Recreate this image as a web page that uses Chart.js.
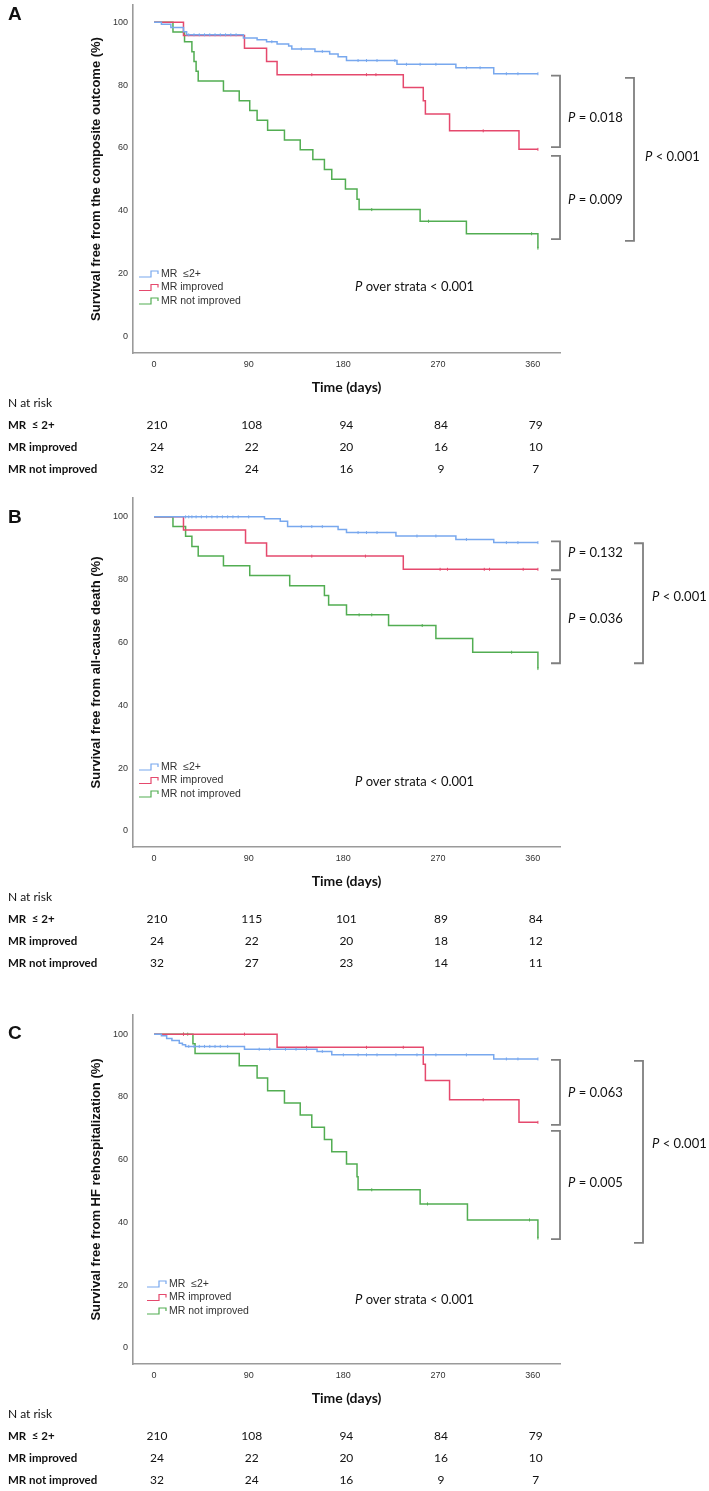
<!DOCTYPE html>
<html><head><meta charset="utf-8">
<script src="https://cdn.jsdelivr.net/npm/chart.js@4.4.0/dist/chart.umd.min.js"></script>
<style>
html,body{margin:0;padding:0;background:#fff;}
body{width:709px;height:1491px;position:relative;overflow:hidden;}
.panel{position:absolute;left:0;width:709px;}
canvas{display:block;}
</style></head><body>
<div class="panel" style="top:0px;height:490px"><canvas id="cA" width="709" height="490"></canvas></div>
<div class="panel" style="top:490px;height:500px"><canvas id="cB" width="709" height="500"></canvas></div>
<div class="panel" style="top:990px;height:501px"><canvas id="cC" width="709" height="501"></canvas></div>
<script>
// ---------- DATA ----------
const groupNames = ['MR  \u22642+', 'MR improved', 'MR not improved'];
const tableNames = ['MR  \u2264 2+', 'MR improved', 'MR not improved'];
const xTickValues = [0, 90, 180, 270, 360];
const yTickValues = [0, 20, 40, 60, 80, 100];
const riskTimes = [0, 90, 180, 270, 360];

// Panel A: composite outcome
const A_le2_t = [0, 7, 16, 28, 31, 85, 98, 107, 117, 128, 131, 153, 167, 175, 183, 231, 287, 323, 365];
const A_le2_s = [100, 99.4, 98.3, 97.0, 96.0, 95.0, 94.4, 93.8, 93.1, 92.4, 91.5, 90.7, 89.9, 89.0, 87.8, 86.6, 85.5, 83.6, 83.6];
const A_imp_t = [0, 28, 86, 107, 117, 237, 256, 258, 281, 347, 365];
const A_imp_s = [100, 95.8, 91.7, 87.5, 83.3, 79.2, 75.0, 70.8, 65.4, 59.5, 59.5];
const A_not_t = [0, 18, 29, 36, 38, 40, 42, 66, 81, 91, 98, 108, 124, 139, 151, 162, 169, 182, 193, 195, 253, 297, 365];
const A_not_s = [100, 96.9, 93.8, 90.6, 87.5, 84.4, 81.3, 78.1, 75.0, 71.9, 68.8, 65.6, 62.5, 59.4, 56.3, 53.1, 50.0, 46.9, 43.6, 40.3, 36.6, 32.6, 28.0];
const A_le2_c = [33, 38, 43, 48, 53, 58, 63, 68, 73, 78, 112, 140, 160, 194, 202, 212, 229, 240, 253, 268, 297, 310, 335, 346, 365];
const A_imp_c = [150, 202, 211, 313, 365];
const A_not_c = [207, 261, 359, 365];
const A_risk_le2 = [210, 108, 94, 84, 79];
const A_risk_imp = [24, 22, 20, 16, 10];
const A_risk_not = [32, 24, 16, 9, 7];

// Panel B: all-cause death
const B_le2_t = [0, 105, 120, 127, 175, 183, 230, 287, 323, 365];
const B_le2_s = [100, 99.4, 98.6, 96.9, 96.0, 95.0, 93.9, 92.8, 91.8, 91.8];
const B_imp_t = [0, 28, 87, 107, 237, 365];
const B_imp_s = [100, 95.8, 91.7, 87.5, 83.3, 83.3];
const B_not_t = [0, 18, 30, 36, 42, 66, 91, 129, 162, 166, 183, 223, 268, 303, 365];
const B_not_s = [100, 96.9, 93.8, 90.6, 87.5, 84.4, 81.3, 78.1, 75.0, 71.9, 68.8, 65.4, 61.3, 56.9, 51.7];
const B_le2_c = [30, 33, 36, 40, 45, 50, 55, 60, 65, 70, 75, 80, 90, 140, 150, 160, 194, 202, 212, 250, 268, 297, 335, 346, 365];
const B_imp_c = [150, 201, 272, 279, 314, 319, 351, 365];
const B_not_c = [195, 207, 255, 340, 365];
const B_risk_le2 = [210, 115, 101, 89, 84];
const B_risk_imp = [24, 22, 20, 18, 12];
const B_risk_not = [32, 27, 23, 14, 11];

// Panel C: HF rehospitalization
const C_le2_t = [0, 7, 12, 17, 24, 27, 30, 86, 155, 169, 323, 365];
const C_le2_s = [100, 99.5, 98.6, 98.0, 97.1, 96.6, 96.1, 95.2, 94.5, 93.4, 92.1, 92.1];
const C_imp_t = [0, 117, 256, 258, 281, 347, 365];
const C_imp_s = [100, 95.8, 90.4, 85.2, 79.1, 71.9, 71.9];
const C_not_t = [0, 37, 39, 81, 98, 108, 124, 139, 150, 162, 169, 183, 193, 194, 253, 298, 365];
const C_not_s = [100, 96.9, 93.8, 89.9, 86.0, 82.0, 78.1, 74.2, 70.3, 66.4, 62.5, 58.6, 54.6, 50.4, 45.9, 40.8, 35.0];
const C_le2_c = [33, 38, 43, 48, 53, 58, 63, 70, 100, 110, 125, 135, 145, 160, 180, 194, 202, 212, 230, 250, 268, 297, 335, 346, 365];
const C_imp_c = [28, 86, 145, 202, 237, 313, 365];
const C_not_c = [28, 32, 207, 260, 357, 365];
const C_risk_le2 = [210, 108, 94, 84, 79];
const C_risk_imp = [24, 22, 20, 16, 10];
const C_risk_not = [32, 24, 16, 9, 7];

// ---------- STYLE ----------
const COLORS = ['#78a8ee', '#e5496d', '#52ad52'];
const ARIAL = '"Liberation Sans", Arial, sans-serif';
const CAL = 'Lato, "Open Sans", sans-serif';

function km(t, s) { return t.map((x, i) => ({ x: x, y: s[i] })); }
function censor(t, s, c) {
  return c.map(ct => { let v = s[0]; for (let i = 0; i < t.length; i++) if (t[i] <= ct) v = s[i]; return { x: ct, y: v }; });
}

function drawP(ctx, x, y, rest, size) {
  ctx.font = 'italic ' + size + 'px ' + CAL;
  ctx.fillText('P', x, y);
  const w = ctx.measureText('P').width;
  ctx.font = size + 'px ' + CAL;
  ctx.fillText(rest, x + w, y);
}

const overlay = {
  id: 'kmOverlay',
  afterDraw(chart, args, o) {
    const ctx = chart.ctx;
    const ca = chart.chartArea;
    const xs = chart.scales.x, ys = chart.scales.y;
    ctx.save();
    ctx.textBaseline = 'middle';
    ctx.fillStyle = '#111';
    // panel letter
    ctx.font = 'bold 19px ' + ARIAL;
    ctx.textAlign = 'left';
    ctx.fillText(o.letter, 8, o.letterY);
    // legend
    ctx.font = '10.5px ' + ARIAL;
    for (let i = 0; i < 3; i++) {
      const ly = ca.top + o.legendDY[i];
      const lx = o.legendX;
      ctx.strokeStyle = COLORS[i];
      ctx.lineWidth = 1.2;
      ctx.beginPath();
      ctx.moveTo(lx, ly + 3); ctx.lineTo(lx + 12, ly + 3); ctx.lineTo(lx + 12, ly - 3);
      ctx.lineTo(lx + 19, ly - 3); ctx.lineTo(lx + 19, ly);
      ctx.stroke();
      ctx.fillStyle = '#333';
      ctx.fillText(groupNames[i], lx + 22, ly);
    }
    // P over strata
    ctx.fillStyle = '#111';
    drawP(ctx, 355, ca.top + o.strataDY, ' over strata < 0.001', 13);
    // brackets
    ctx.strokeStyle = '#7f7f7f';
    ctx.lineWidth = 1.8;
    o.brackets.forEach(b => {
      const y1 = ys.getPixelForValue(b.from), y2 = ys.getPixelForValue(b.to);
      const xv = ca.right + b.dx, xt = xv - 9;
      ctx.beginPath();
      ctx.moveTo(xt, y1); ctx.lineTo(xv, y1); ctx.lineTo(xv, y2); ctx.lineTo(xt, y2);
      ctx.stroke();
      drawP(ctx, ca.right + b.tx, ys.getPixelForValue(b.textAt), b.text, 13);
    });
    // risk table
    const tb = ca.bottom;
    ctx.fillStyle = '#111';
    ctx.textAlign = 'left';
    ctx.font = '12px ' + CAL;
    ctx.fillText('N at risk', 8, tb + 50);
    const rowsDY = [72, 94.5, 116.5];
    o.risk.forEach((row, r) => {
      ctx.textAlign = 'left';
      ctx.font = 'bold 11.5px ' + CAL;
      ctx.fillText(tableNames[r], 8, tb + rowsDY[r]);
      ctx.textAlign = 'center';
      ctx.font = '12px ' + CAL;
      row.forEach((n, k) => ctx.fillText(String(n), xs.getPixelForValue(riskTimes[k]) + 3, tb + rowsDY[r]));
    });
    ctx.restore();
  }
};

function makeChart(id, P) {
  const series = [P.le2, P.imp, P.not];
  const datasets = [];
  series.forEach((s, i) => {
    datasets.push({ data: km(s.t, s.s), borderColor: COLORS[i], borderWidth: 1.5, stepped: 'before',
      pointRadius: 0, fill: false, tension: 0, order: i });
  });
  series.forEach((s, i) => {
    datasets.push({ data: censor(s.t, s.s, s.c), showLine: false, pointStyle: 'line', rotation: 90,
      pointRadius: 1.5, pointBorderWidth: 1, pointBorderColor: COLORS[i], borderColor: COLORS[i], order: i });
  });
  return new Chart(document.getElementById(id), {
    type: 'line',
    data: { datasets },
    options: {
      responsive: false, animation: false, events: [],
      layout: { padding: { left: 0, right: 149, top: P.padTop, bottom: P.padBottom } },
      plugins: { legend: { display: false }, tooltip: { enabled: false }, kmOverlay: P.overlay },
      scales: {
        x: { type: 'linear', min: -20, max: 386,
          afterBuildTicks: s => { s.ticks = xTickValues.map(v => ({ value: v })); },
          afterFit: s => { s.height = 45; s.paddingLeft = 0; s.paddingRight = 0; },
          grid: { display: false, drawTicks: false },
          border: { display: true, color: '#9a9a9a', width: 1.6 },
          ticks: { font: { family: ARIAL, size: 9 }, color: '#333', padding: 6, maxRotation: 0, autoSkip: false },
          title: { display: true, text: 'Time (days)', color: '#111', font: { family: CAL, size: 14, weight: 'bold' }, padding: { top: 0, bottom: 2.6 } } },
        y: { type: 'linear', min: P.yMin, max: P.yMax,
          afterBuildTicks: s => { s.ticks = yTickValues.map(v => ({ value: v })); },
          afterFit: s => { s.width = 133; s.paddingTop = 0; s.paddingBottom = 0; },
          grid: { display: false, drawTicks: false },
          border: { display: true, color: '#9a9a9a', width: 1.6 },
          ticks: { font: { family: ARIAL, size: 9 }, color: '#333', padding: 5 },
          title: { display: true, text: P.yTitle, color: '#111', font: { family: ARIAL, size: 13, weight: 'bold' }, padding: { top: 89, bottom: 0 } } }
      }
    },
    plugins: [overlay]
  });
}

const legendDY = [269, 282.5, 296];

makeChart('cA', {
  padTop: 5, padBottom: 92, yMin: -5.4, yMax: 105.5,
  yTitle: 'Survival free from the composite outcome (%)',
  le2: { t: A_le2_t, s: A_le2_s, c: A_le2_c },
  imp: { t: A_imp_t, s: A_imp_s, c: A_imp_c },
  not: { t: A_not_t, s: A_not_s, c: A_not_c },
  overlay: { letter: 'A', letterY: 15, legendX: 139, legendDY, strataDY: 282,
    risk: [A_risk_le2, A_risk_imp, A_risk_not],
    brackets: [
      { from: 83.0, to: 60.2, dx: 0, tx: 8, textAt: 69.5, text: ' = 0.018' },
      { from: 57.4, to: 30.9, dx: 0, tx: 8, textAt: 43.4, text: ' = 0.009' },
      { from: 82.3, to: 30.3, dx: 74, tx: 85, textAt: 57.0, text: ' < 0.001' }
    ] }
});

makeChart('cB', {
  padTop: 8, padBottom: 98, yMin: -5.1, yMax: 106,
  yTitle: 'Survival free from all-cause death (%)',
  le2: { t: B_le2_t, s: B_le2_s, c: B_le2_c },
  imp: { t: B_imp_t, s: B_imp_s, c: B_imp_c },
  not: { t: B_not_t, s: B_not_s, c: B_not_c },
  overlay: { letter: 'B', letterY: 28, legendX: 139, legendDY, strataDY: 284,
    risk: [B_risk_le2, B_risk_imp, B_risk_not],
    brackets: [
      { from: 92.2, to: 83.0, dx: 0, tx: 8, textAt: 88.4, text: ' = 0.132' },
      { from: 80.2, to: 53.4, dx: 0, tx: 8, textAt: 67.4, text: ' = 0.036' },
      { from: 91.6, to: 53.4, dx: 83, tx: 92, textAt: 74.4, text: ' < 0.001' }
    ] }
});

makeChart('cC', {
  padTop: 25, padBottom: 82, yMin: -5.1, yMax: 106.1,
  yTitle: 'Survival free from HF rehospitalization (%)',
  le2: { t: C_le2_t, s: C_le2_s, c: C_le2_c },
  imp: { t: C_imp_t, s: C_imp_s, c: C_imp_c },
  not: { t: C_not_t, s: C_not_s, c: C_not_c },
  overlay: { letter: 'C', letterY: 44, legendX: 147, legendDY, strataDY: 285,
    risk: [C_risk_le2, C_risk_imp, C_risk_not],
    brackets: [
      { from: 91.8, to: 71.1, dx: 0, tx: 8, textAt: 81.3, text: ' = 0.063' },
      { from: 69.2, to: 34.7, dx: 0, tx: 8, textAt: 52.6, text: ' = 0.005' },
      { from: 91.5, to: 33.5, dx: 83, tx: 92, textAt: 65.0, text: ' < 0.001' }
    ] }
});
</script>
</body></html>
